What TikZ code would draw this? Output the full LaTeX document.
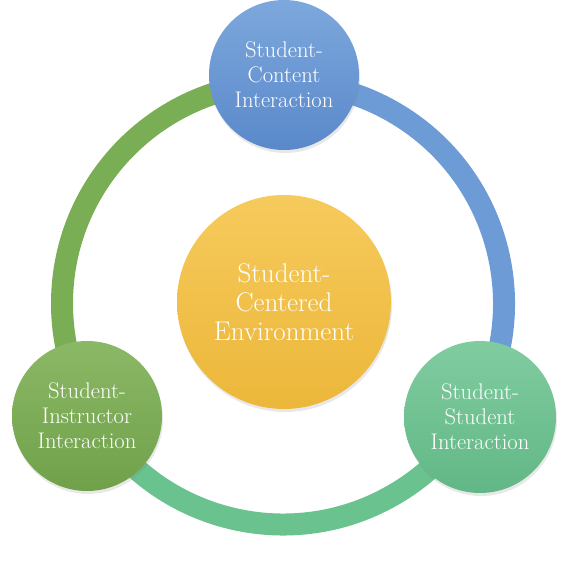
\documentclass[tikz,border=0pt]{standalone}
\usepackage{fontspec}
\usetikzlibrary{shadows}
\definecolor{ringgreen}{HTML}{7AAE55}
\definecolor{ringblue}{HTML}{6C9BD6}
\definecolor{ringteal}{HTML}{6AC28F}
\definecolor{bluetop}{HTML}{7DA8DD}
\definecolor{bluebot}{HTML}{5A89CA}
\definecolor{yeltop}{HTML}{F6CA5C}
\definecolor{yelbot}{HTML}{ECB73A}
\definecolor{grntop}{HTML}{8BB866}
\definecolor{grnbot}{HTML}{70A14A}
\definecolor{tealtop}{HTML}{80CCA0}
\definecolor{tealbot}{HTML}{62B786}
\tikzset{
  bubble/.style={circle, inner sep=0pt, text=white, align=center,
    font=\fontsize{22.6}{25}\selectfont,
    drop shadow={opacity=0.18, shadow xshift=1pt, shadow yshift=-3pt}},
  bigbubble/.style={bubble, font=\fontsize{27}{29}\selectfont},
  ringarc/.style={line width=22pt, line cap=butt}
}
\begin{document}
\begin{tikzpicture}[x=1pt,y=1pt]
\useasboundingbox (0,0) rectangle (563,563);
\fill[white] (0,0) rectangle (563,563);
\coordinate (ringc) at (283,259.5);
% ring arcs
\draw[ringarc, ringgreen] (ringc) ++(90:221) arc[start angle=90, end angle=210, radius=221];
\draw[ringarc, ringblue] (ringc) ++(-30:221) arc[start angle=-30, end angle=90, radius=221];
\draw[ringarc, ringteal] (ringc) ++(210:221) arc[start angle=210, end angle=330, radius=221];
% circles
\node[bigbubble, minimum size=214pt, top color=yeltop, bottom color=yelbot] (center) at (284,261)
  {Student-\\Centered\\Environment};
\node[bubble, minimum size=150pt, top color=bluetop, bottom color=bluebot] (content) at (284,488)
  {Student-\\Content\\Interaction};
\node[bubble, minimum size=150pt, top color=grntop, bottom color=grnbot] (instructor) at (87,147)
  {Student-\\Instructor\\Interaction};
\node[bubble, minimum size=152pt, top color=tealtop, bottom color=tealbot] (student) at (480,146)
  {Student-\\Student\\Interaction};
\end{tikzpicture}
\end{document}
